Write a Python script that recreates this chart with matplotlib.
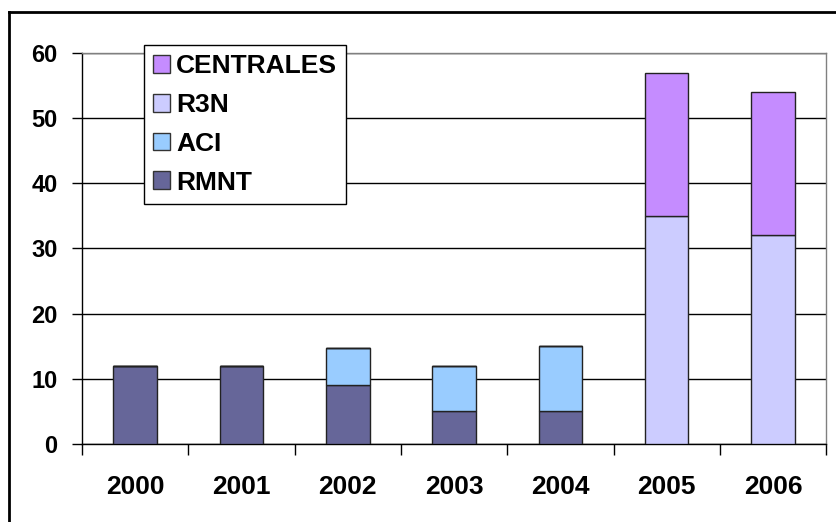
import numpy as np
import matplotlib.pyplot as plt
from matplotlib.lines import Line2D
from matplotlib.patches import Patch

years = ['2000', '2001', '2002', '2003', '2004', '2005', '2006']
rmnt = [12, 12, 9, 5, 5, 0, 0]
aci = [0, 0, 5.7, 7, 10, 0, 0]
r3n = [0, 0, 0, 0, 0, 35, 32]
centrales = [0, 0, 0, 0, 0, 22, 22]

series = [('RMNT', rmnt, '#666699'),
          ('ACI', aci, '#99CCFF'),
          ('R3N', r3n, '#CCCCFF'),
          ('CENTRALES', centrales, '#C58CFF')]

plt.rcParams['font.family'] = ['Liberation Sans', 'DejaVu Sans']
plt.rcParams['font.weight'] = 'bold'

fig = plt.figure(figsize=(8.37, 5.22), dpi=100)
ax = fig.add_axes([0.098, 0.1494, 0.889, 0.7491])

x = np.arange(len(years))
bottom = np.zeros(len(years))
for name, vals, col in series:
    vals = np.array(vals, dtype=float)
    ax.bar(x, vals, width=0.41, bottom=bottom, color=col, edgecolor='#222222',
           linewidth=1.0, zorder=3)
    bottom += vals

ax.set_xlim(-0.5, len(years) - 0.5)
ax.set_ylim(0, 60)
ax.set_yticks(range(0, 61, 10))
ax.yaxis.grid(True, color='black', linewidth=1.0, zorder=0)
ax.set_axisbelow(True)

# labels at category centres, tick marks at category boundaries
ax.set_xticks(x)
ax.set_xticklabels(years, fontsize=19, fontweight='bold')
ax.set_xticks(np.arange(-0.5, len(years)), minor=True)
ax.tick_params(axis='x', which='major', length=0, pad=22.5)
ax.tick_params(axis='x', which='minor', length=8, width=1, direction='out', color='black')
ax.tick_params(axis='y', length=7.2, width=1, pad=10.5, labelsize=17, color='black')
for lbl in ax.get_yticklabels():
    lbl.set_fontweight('bold')

for s in ['left', 'bottom']:
    ax.spines[s].set_color('black')
    ax.spines[s].set_linewidth(1.0)
for s in ['top', 'right']:
    ax.spines[s].set_color('#808080')
    ax.spines[s].set_linewidth(1.0)

handles = [Patch(facecolor=col, edgecolor='#333333', linewidth=1.0, label=name)
           for name, vals, col in series[::-1]]
leg = ax.legend(handles=handles, loc='upper left',
                bbox_to_anchor=(144 / 837, 1 - 45 / 522), bbox_transform=fig.transFigure,
                borderaxespad=0, frameon=True, fancybox=False, edgecolor='black',
                framealpha=1, prop={'weight': 'bold', 'size': 19},
                handlelength=0.65, handleheight=0.65, handletextpad=0.22,
                labelspacing=0.56, borderpad=0.35)
leg.get_frame().set_linewidth(1.0)
leg.set_zorder(5)

# outer chart border (left and top visible)
fig.add_artist(Line2D([9 / 837, 9 / 837], [0, 1 - 12 / 522], color='black', linewidth=2,
                      transform=fig.transFigure))
fig.add_artist(Line2D([9 / 837, 1], [1 - 12 / 522, 1 - 12 / 522], color='black', linewidth=2,
                      transform=fig.transFigure))

fig.savefig('out.png', dpi=100)
